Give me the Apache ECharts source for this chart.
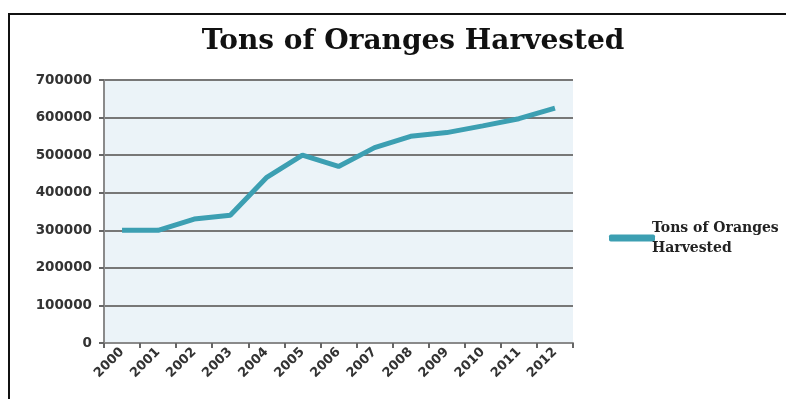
<!DOCTYPE html>
<html>
<head>
<meta charset="utf-8">
<script src="https://cdn.jsdelivr.net/npm/echarts@6/dist/echarts.min.js"></script>
<style>
  html,body{margin:0;padding:0;background:#fff;}
  #chart{width:786px;height:399px;}
</style>
</head>
<body>
<div id="chart"></div>
<script>
  // data
  let years = ['2000','2001','2002','2003','2004','2005','2006','2007','2008','2009','2010','2011','2012']
  let tons = [300000,300000,330000,340000,440000,500000,470000,520000,550000,560000,578000,597000,625000]
  let seriesName = 'Tons of Oranges Harvested'

  let chart = echarts.init(document.getElementById('chart'))
  let option = {
    backgroundColor: '#fff',
    animation: false,
    title: {
      text: 'Tons of Oranges Harvested',
      left: 408,
      textAlign: 'center',
      top: 23,
      textStyle: {
        fontFamily: 'DejaVu Serif',
        fontWeight: 'bold',
        fontSize: 28,
        color: '#111'
      }
    },
    graphic: [{
      type: 'rect',
      shape: {x: 9, y: 14, width: 800, height: 420},
      style: {fill: 'none', stroke: '#111', lineWidth: 2},
      silent: true
    }],
    legend: {
      left: 604,
      top: 213,
      orient: 'vertical',
      icon: 'roundRect',
      itemWidth: 46,
      itemHeight: 7,
      itemGap: 0,
      formatter: function(){ return 'Tons of Oranges\nHarvested' },
      textStyle: {
        fontFamily: 'DejaVu Serif',
        fontWeight: 'bold',
        fontSize: 14,
        lineHeight: 20,
        color: '#222',
        padding: [0, 0, 0, -8]
      },
      data: [seriesName]
    },
    grid: {
      left: 104,
      right: 213,
      top: 80,
      bottom: 56
    },
    xAxis: {
      type: 'category',
      data: years,
      boundaryGap: true,
      axisLine: {show: true, lineStyle: {color: '#8a8a8a', width: 2}},
      axisTick: {show: true, length: 5, lineStyle: {color: '#666', width: 2}},
      axisLabel: {
        rotate: 45,
        interval: 0,
        margin: 7,
        fontFamily: 'DejaVu Sans',
        fontWeight: 'bold',
        fontSize: 13,
        color: '#333'
      },
      splitLine: {show: false}
    },
    yAxis: {
      type: 'value',
      min: 0,
      max: 700000,
      interval: 100000,
      axisLine: {show: true, lineStyle: {color: '#8a8a8a', width: 2}},
      axisTick: {show: true, length: 5, lineStyle: {color: '#666', width: 2}},
      axisLabel: {
        margin: 12,
        fontFamily: 'DejaVu Sans',
        fontWeight: 'bold',
        fontSize: 13.5,
        color: '#333',
        formatter: function(value){ return String(value) }
      },
      splitLine: {show: true, lineStyle: {color: '#777', width: 2}},
      splitArea: {show: true, areaStyle: {color: ['#ebf3f8', '#ebf3f8']}}
    },
    series: [{
      name: seriesName,
      type: 'line',
      data: tons,
      symbol: 'none',
      lineStyle: {color: '#3c9fb2', width: 5},
      itemStyle: {color: '#3c9fb2'}
    }]
  }
  chart.setOption(option)
</script>
</body>
</html>
